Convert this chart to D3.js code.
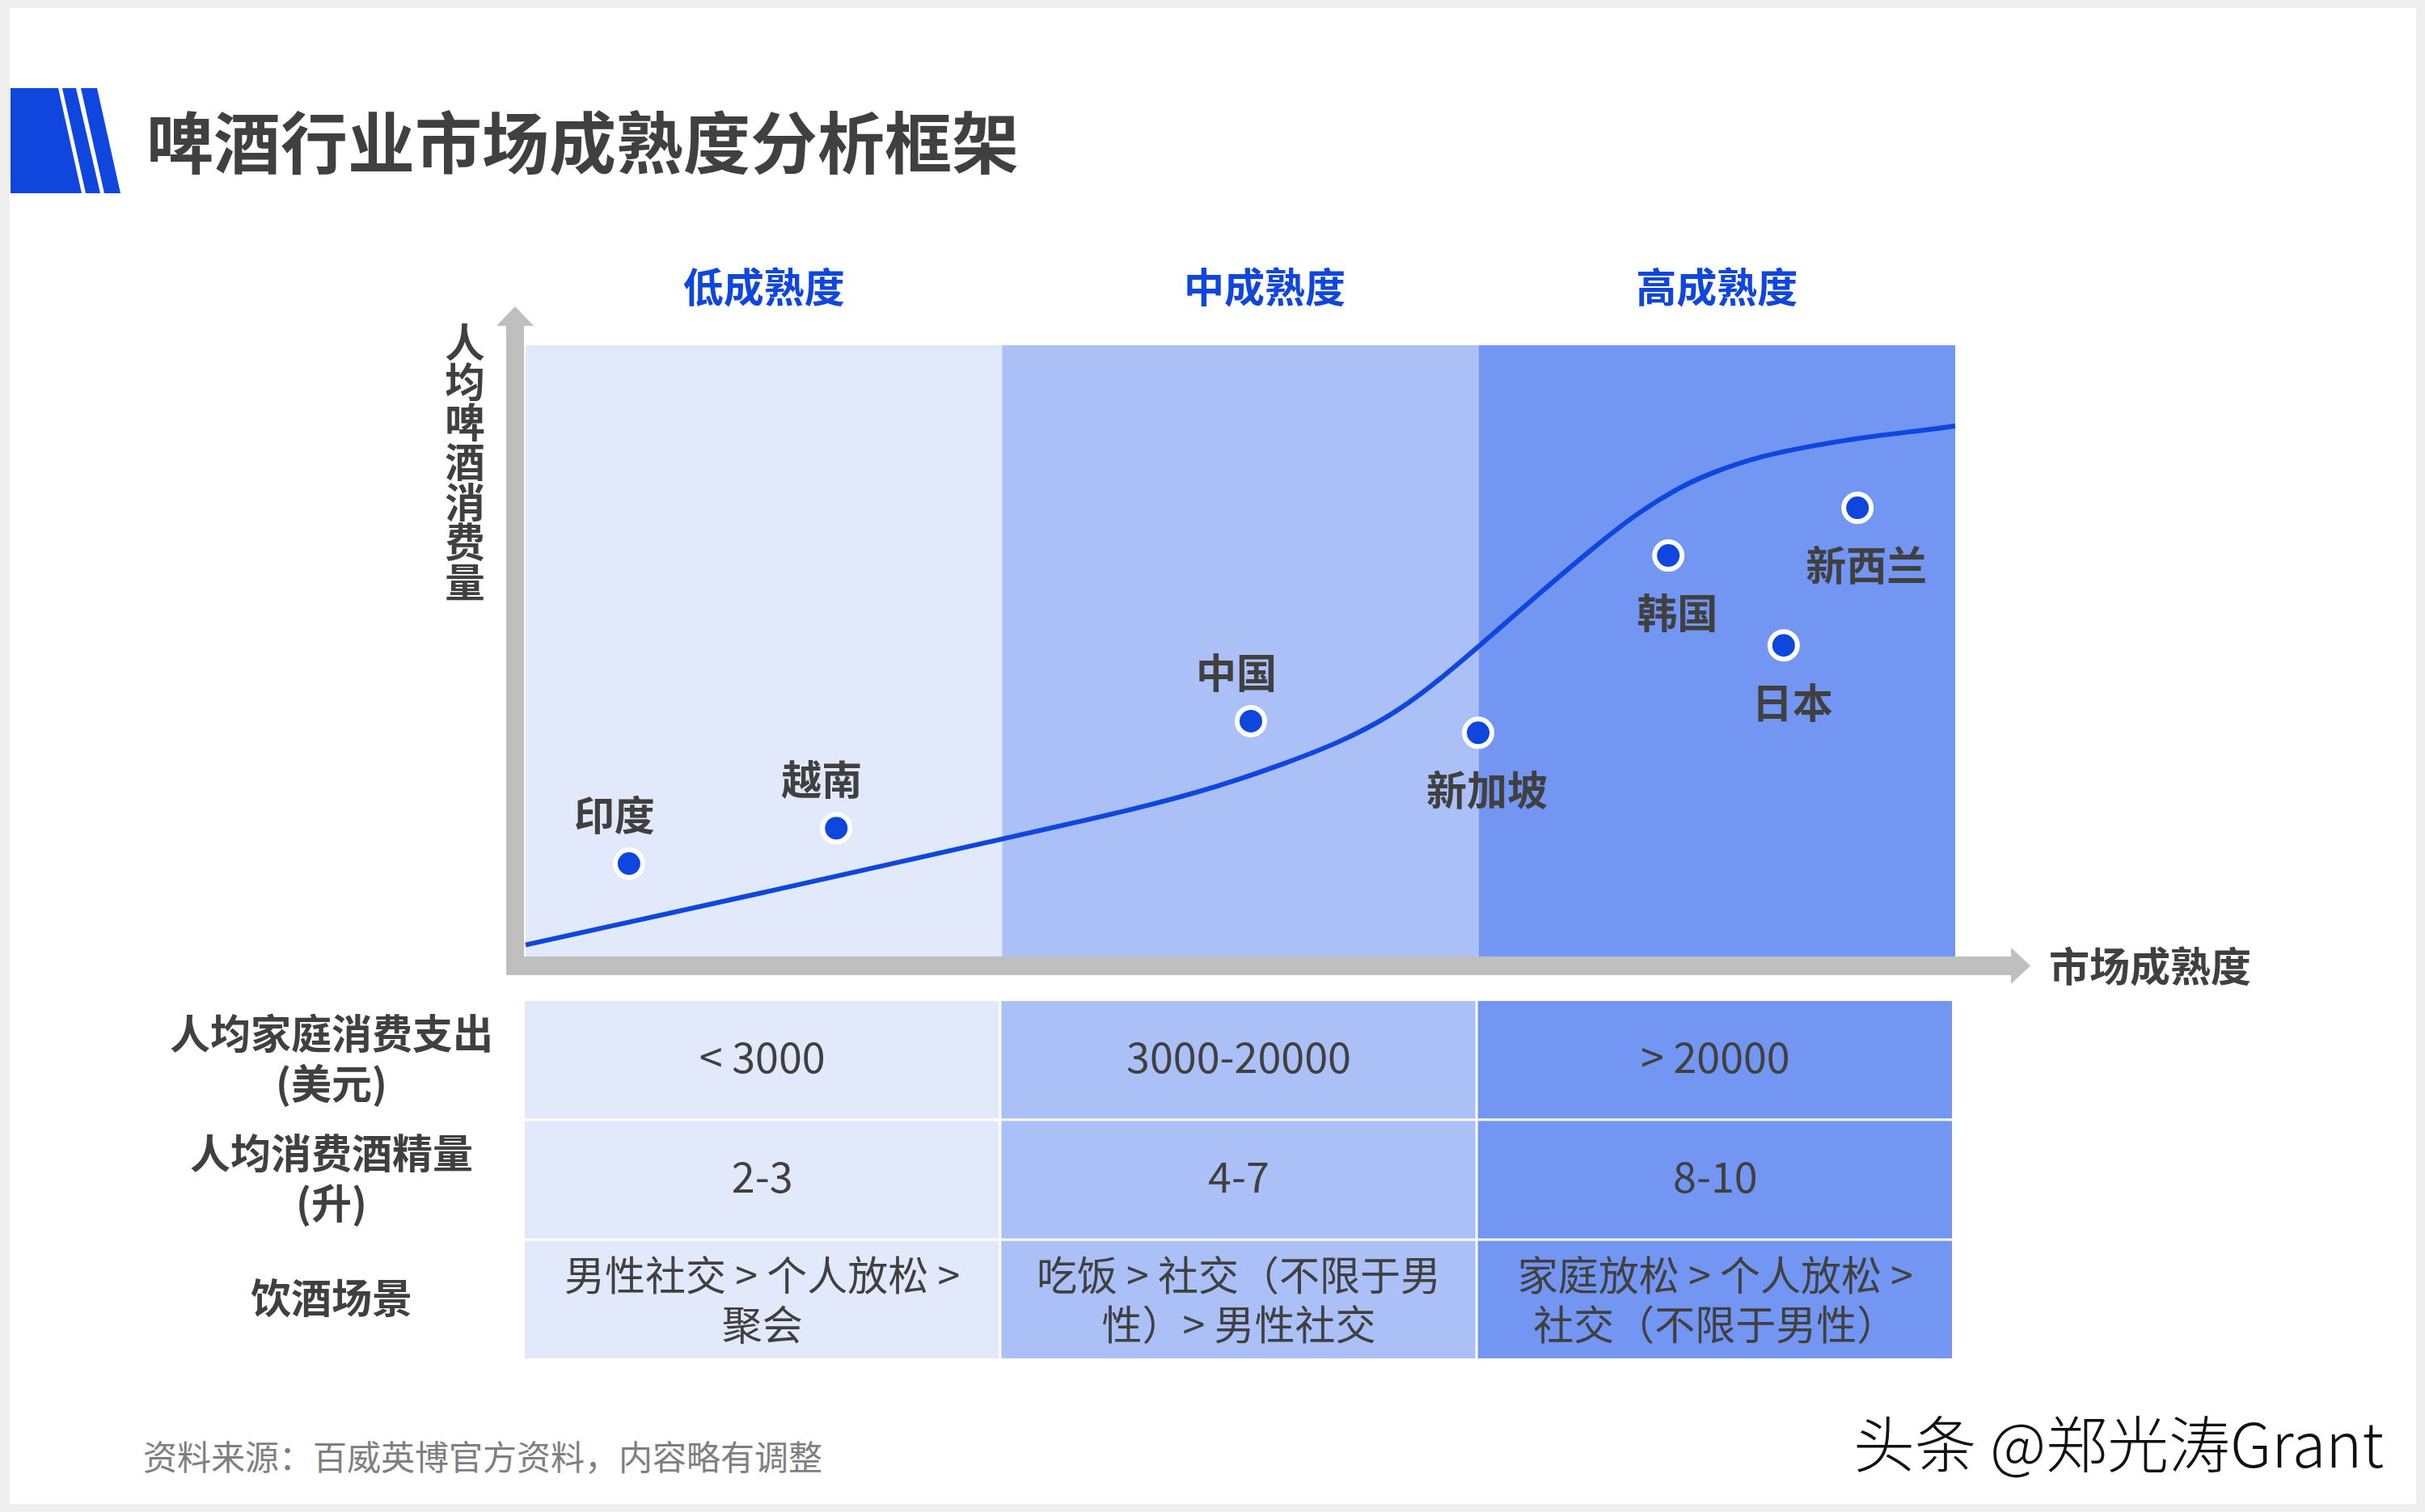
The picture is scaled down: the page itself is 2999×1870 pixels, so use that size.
<!DOCTYPE html>
<html><head><meta charset="utf-8">
<script src="https://cdn.jsdelivr.net/npm/d3@7"></script>
<style>body{margin:0;background:#efefef}svg{display:block}</style>
</head><body>
<svg id="c" width="2999" height="1870"></svg>
<script>
// ---- data ----
const stages = ['低成熟度', '中成熟度', '高成熟度'];
const curveX = [0, 0.497, 0.998, 1.285, 1.454, 1.595, 1.714, 1.816, 1.895, 2.0, 2.121, 2.235, 2.325, 2.410, 2.482, 2.596, 2.710, 2.822, 2.936, 3.0];
const curveY = [1.9, 10.4, 19.2, 24.2, 27.8, 31.6, 35.2, 39.4, 43.8, 50.7, 59.0, 66.5, 72.1, 76.3, 79.0, 82.0, 83.7, 85.1, 86.1, 86.8];
const countries = ['印度', '越南', '中国', '新加坡', '韩国', '日本', '新西兰'];
const countryX = [0.217, 0.652, 1.522, 1.999, 2.398, 2.640, 2.795];
const countryY = [15.2, 21.0, 38.5, 36.6, 65.6, 50.9, 73.4];
const labelSide = ['above', 'above', 'above', 'below', 'below', 'below', 'below'];
const rowHeaders = [['人均家庭消费支出', '(美元)'], ['人均消费酒精量', '(升)'], ['饮酒场景']];
const spending = ['< 3000', '3000-20000', '> 20000'];
const alcohol = ['2-3', '4-7', '8-10'];
const scenes = [['男性社交 > 个人放松 >', '聚会'], ['吃饭 > 社交（不限于男', '性）> 男性社交'], ['家庭放松 > 个人放松 >', '社交（不限于男性）']];
const title = '啤酒行业市场成熟度分析框架';
const yTitle = '人均啤酒消费量';
const xTitle = '市场成熟度';
const source = '资料来源：百威英博官方资料，内容略有调整';
const watermark = '头条 @郑光涛Grant';

// ---- styles ----
const FONT = '"Noto Sans CJK SC","Noto Sans",sans-serif';
const bandColors = ['#e2e9fb', '#abc0f6', '#7396f3'];
const blue = '#0f46de';
const txt = '#404040';
const axisGray = '#bfbfbf';

const svg = d3.select('#c').style('font-family', FONT);
svg.append('rect').attr('x', 12).attr('y', 10).attr('width', 2976).attr('height', 1850).attr('fill', '#fff');

// title block
const tb = svg.append('g').attr('fill', blue);
tb.append('polygon').attr('points', '13,109 72,109 101,239 13,239');
tb.append('polygon').attr('points', '77,109 94,109 124,239 106,239');
tb.append('polygon').attr('points', '100,109 120,109 149,239 129,239');
svg.append('text').attr('x', 181).attr('y', 172).attr('dominant-baseline', 'central')
  .attr('font-size', 83).attr('font-weight', 700).attr('fill', txt).text(title);

// scales
const xs = d3.scaleLinear().domain([0, 3]).range([650, 2418]);
const ys = d3.scaleLinear().domain([0, 100]).range([1183, 427]);

// bands
svg.append('g').selectAll('rect').data(stages).join('rect')
  .attr('x', (d, i) => xs(i)).attr('width', (d, i) => xs(i + 1) - xs(i))
  .attr('y', ys(100)).attr('height', ys(0) - ys(100))
  .attr('fill', (d, i) => bandColors[i]);

// stage headers
const headerNudge = [0, 30, 0];
svg.append('g').selectAll('text').data(stages).join('text')
  .attr('x', (d, i) => xs(i + 0.5) + headerNudge[i]).attr('y', 352)
  .attr('text-anchor', 'middle').attr('dominant-baseline', 'central')
  .attr('font-size', 50).attr('font-weight', 700).attr('fill', blue).text(d => d);

// axes
const ax = svg.append('g').attr('fill', axisGray);
ax.append('rect').attr('x', xs(0) - 24).attr('y', ys(100) - 24).attr('width', 22).attr('height', ys(0) + 23 - (ys(100) - 24));
ax.append('polygon').attr('points', [[xs(0) - 13, ys(100) - 48], [xs(0) - 36, ys(100) - 24], [xs(0) + 10, ys(100) - 24]].join(' '));
ax.append('rect').attr('x', xs(0) - 24).attr('y', ys(0)).attr('width', 2487 - (xs(0) - 24)).attr('height', 23);
ax.append('polygon').attr('points', [[2487, ys(0) - 11], [2511, ys(0) + 11.5], [2487, ys(0) + 34]].join(' '));

// axis titles
svg.append('text').attr('x', 575).attr('y', 398)
  .attr('writing-mode', 'vertical-rl').style('writing-mode', 'vertical-rl')
  .attr('font-size', 49.5).attr('font-weight', 700).attr('fill', txt).text(yTitle);
svg.append('text').attr('x', 2534).attr('y', 1192).attr('dominant-baseline', 'central')
  .attr('font-size', 50).attr('font-weight', 700).attr('fill', txt).text(xTitle);

// curve
const line = d3.line().x(d => xs(d[0])).y(d => ys(d[1])).curve(d3.curveBasis);
svg.append('path').datum(curveX.map((x, i) => [x, curveY[i]]))
  .attr('d', line).attr('fill', 'none').attr('stroke', blue).attr('stroke-width', 6);

// points
const pts = countries.map((c, i) => ({ c, x: countryX[i], y: countryY[i], side: labelSide[i] }));
svg.append('g').selectAll('circle').data(pts).join('circle')
  .attr('cx', d => xs(d.x)).attr('cy', d => ys(d.y)).attr('r', 17)
  .attr('fill', blue).attr('stroke', '#fff').attr('stroke-width', 6);
svg.append('g').selectAll('text').data(pts).join('text')
  .attr('x', d => xs(d.x) + (d.side === 'above' ? -18 : 11))
  .attr('y', d => ys(d.y) + (d.side === 'above' ? -63 : 68))
  .attr('text-anchor', 'middle').attr('dominant-baseline', 'central')
  .attr('font-size', 50).attr('font-weight', 700).attr('fill', txt).text(d => d.c);

// table
const rows = d3.scaleBand().domain([0, 1, 2]).range([1238, 1680]).paddingInner(0.02);
const cells = [];
[spending, alcohol, scenes].forEach((arr, r) => arr.forEach((v, c) => cells.push({ r, c, v })));
svg.append('g').selectAll('rect').data(cells).join('rect')
  .attr('x', d => xs(d.c) - 1).attr('width', d => xs(d.c + 1) - xs(d.c) - 3)
  .attr('y', d => rows(d.r)).attr('height', rows.bandwidth())
  .attr('fill', d => bandColors[d.c]);

function multiline(g, x, cy, lines, lh) {
  const t = g.append('text').attr('dominant-baseline', 'central');
  lines.forEach((l, k) => {
    t.append('tspan').attr('x', x).attr('y', cy + (k - (lines.length - 1) / 2) * lh).text(l);
  });
  return t;
}
const ct = svg.append('g').attr('fill', txt).attr('text-anchor', 'middle');
cells.forEach(d => {
  const lines = Array.isArray(d.v) ? d.v : [d.v];
  const cy = rows(d.r) + rows.bandwidth() / 2 + (lines.length > 1 ? -3 : -7);
  multiline(ct, (xs(d.c) + xs(d.c + 1)) / 2 - 2, cy, lines, 61)
    .attr('font-size', lines.length > 1 ? 50 : 52);
});
const rh = svg.append('g').attr('fill', txt).attr('text-anchor', 'middle').attr('font-weight', 700).attr('font-size', 50);
rowHeaders.forEach((lines, r) => {
  multiline(rh, 410, rows(r) + rows.bandwidth() / 2 - 5, lines, 62);
});

// footer
svg.append('text').attr('x', 177).attr('y', 1799).attr('dominant-baseline', 'central')
  .attr('font-size', 42).attr('fill', '#7f7f7f').text(source);
svg.append('text').attr('x', 2948).attr('y', 1782).attr('dominant-baseline', 'central')
  .attr('text-anchor', 'end').attr('font-size', 76).attr('font-weight', 300)
  .attr('fill', '#111').attr('stroke', '#fff').attr('stroke-width', 2).attr('paint-order', 'stroke')
  .text(watermark);
</script></body></html>
